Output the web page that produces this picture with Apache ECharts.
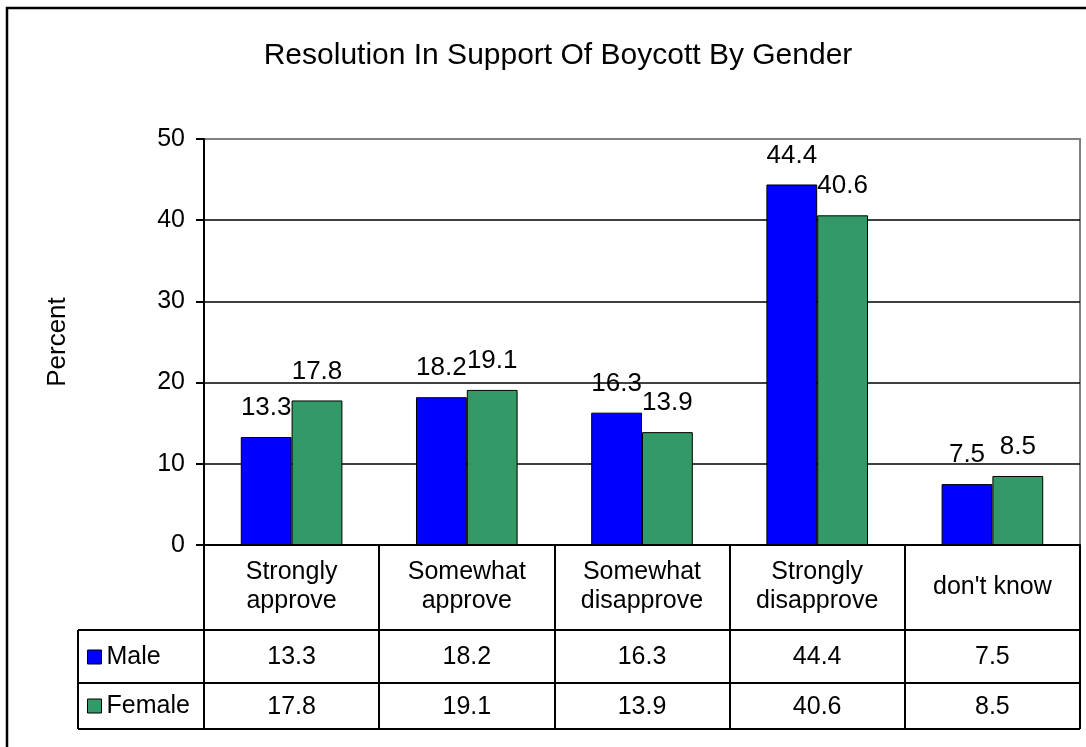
<!DOCTYPE html>
<html>
<head>
<meta charset="utf-8">
<script src="https://cdn.jsdelivr.net/npm/echarts@6/dist/echarts.min.js"></script>
<style>
html,body{margin:0;padding:0;background:#fff;}
#chart{width:1086px;height:747px;}
</style>
</head>
<body>
<div id="chart"></div>
<script>
const categories = ['Strongly\napprove', 'Somewhat\napprove', 'Somewhat\ndisapprove', 'Strongly\ndisapprove', "don't know"];
const seriesNames = ['Male', 'Female'];
const maleValues = [13.3, 18.2, 16.3, 44.4, 7.5];
const femaleValues = [17.8, 19.1, 13.9, 40.6, 8.5];
const yTickValues = [0, 10, 20, 30, 40, 50];
const titleText = 'Resolution In Support Of Boycott By Gender';
const yName = 'Percent';

const FONT = "'Liberation Sans', Arial, sans-serif";
const colors = ['#0000FF', '#339966'];

const chart = echarts.init(document.getElementById('chart'), null, {renderer: 'canvas'});

const gridLeft = 204, gridRight = 6, gridTop = 139, gridBottom = 202;
const rowLabel = 85, rowMale = 53, rowFemale = 46;
const tableLeft = 78;

const option = {
  backgroundColor: '#fff',
  animation: false,
  title: {
    text: titleText,
    left: 553,
    top: 36,
    textAlign: 'center',
    textStyle: {fontFamily: FONT, fontSize: 30, fontWeight: 'normal', color: '#000'}
  },
  legend: {
    data: seriesNames,
    orient: 'vertical',
    left: 87,
    top: 643,
    padding: 0,
    itemWidth: 14,
    itemHeight: 14,
    itemGap: 21,
    icon: 'rect',
    itemStyle: {borderColor: '#000', borderWidth: 1},
    textStyle: {fontFamily: FONT, fontSize: 25, color: '#000', lineHeight: 28}
  },
  grid: {
    left: gridLeft, right: gridRight, top: gridTop, bottom: gridBottom,
    show: true, borderColor: '#808080', borderWidth: 2, backgroundColor: 'transparent'
  },
  xAxis: {
    type: 'category',
    data: categories,
    axisLine: {lineStyle: {color: '#000', width: 2}},
    axisTick: {show: true, length: rowLabel + rowMale + rowFemale, interval: 0, lineStyle: {color: '#000', width: 2}},
    axisLabel: {
      interval: 0, margin: 42, verticalAlign: 'middle',
      fontFamily: FONT, fontSize: 25, lineHeight: 29, color: '#000'
    },
    splitLine: {show: false}
  },
  yAxis: {
    type: 'value',
    min: yTickValues[0],
    max: yTickValues[yTickValues.length - 1],
    interval: yTickValues[1] - yTickValues[0],
    name: yName,
    nameLocation: 'middle',
    nameGap: 133,
    nameRotate: 90,
    nameTextStyle: {fontFamily: FONT, fontSize: 26, color: '#000'},
    axisLine: {show: true, lineStyle: {color: '#000', width: 2}},
    axisTick: {show: true, length: 8, lineStyle: {color: '#000', width: 2}},
    axisLabel: {margin: 19, fontFamily: FONT, fontSize: 25, color: '#000'},
    splitLine: {show: true, showMaxLine: false, lineStyle: {color: '#000', width: 1.5}}
  },
  series: [
    {
      name: seriesNames[0], type: 'bar', data: maleValues,
      barGap: '0%', barCategoryGap: '42%',
      itemStyle: {color: colors[0], borderColor: '#000', borderWidth: 1},
      label: {show: true, position: 'top', distance: 16, fontFamily: FONT, fontSize: 26, color: '#000'}
    },
    {
      name: seriesNames[1], type: 'bar', data: femaleValues,
      barGap: '0%', barCategoryGap: '42%',
      itemStyle: {color: colors[1], borderColor: '#000', borderWidth: 1},
      label: {show: true, position: 'top', distance: 16, fontFamily: FONT, fontSize: 26, color: '#000'}
    }
  ]
};
chart.setOption(option);

// Data table graphics
const axisY = chart.convertToPixel({yAxisIndex: 0}, 0);
const rightX = 1086 - gridRight;
const y1 = axisY + rowLabel;
const y2 = y1 + rowMale;
const y3 = y2 + rowFemale;
const g = [];
g.push({type: 'rect', shape: {x: 7, y: 8, width: 1200, height: 800}, style: {fill: 'none', stroke: '#000', lineWidth: 2.5}, silent: true});
[y1, y2, y3].forEach(function (yy) {
  g.push({type: 'line', shape: {x1: tableLeft, y1: yy, x2: rightX, y2: yy}, style: {stroke: '#000', lineWidth: 2}, silent: true});
});
g.push({type: 'line', shape: {x1: tableLeft, y1: y1, x2: tableLeft, y2: y3}, style: {stroke: '#000', lineWidth: 2}, silent: true});
[maleValues, femaleValues].forEach(function (vals, r) {
  const cy = r === 0 ? (y1 + y2) / 2 : (y2 + y3) / 2;
  vals.forEach(function (v, i) {
    const cx = chart.convertToPixel({xAxisIndex: 0}, i);
    g.push({type: 'text', x: cx, y: cy + 1, style: {text: v.toFixed(1), fontFamily: FONT, fontSize: 25, fill: '#000', align: 'center', verticalAlign: 'middle'}, silent: true});
  });
});
chart.setOption({graphic: g});
</script>
</body>
</html>
